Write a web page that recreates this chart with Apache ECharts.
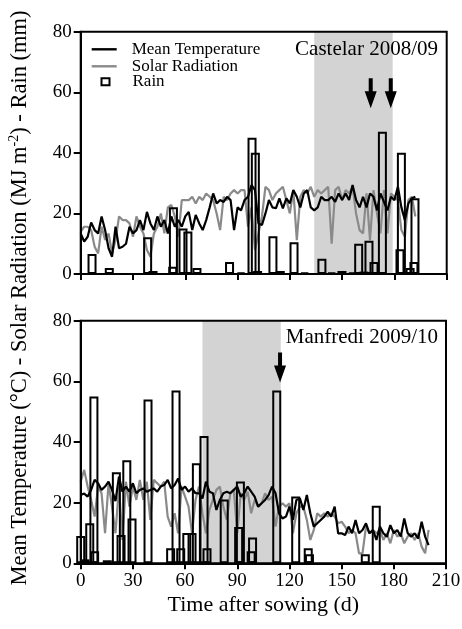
<!DOCTYPE html>
<html>
<head>
<meta charset="utf-8">
<script src="https://cdn.jsdelivr.net/npm/echarts@6/dist/echarts.min.js"></script>
<style>html,body{margin:0;padding:0;background:#fff}#c{width:462px;height:629px}</style>
</head>
<body>
<div id="c"></div>
<script>
// ---- data ----
const sampleDays = [0,2,4,6,8,10,12,14,16,18,20,22,24,26,28,30,32,34,36,38,40,42,44,46,48,50,52,54,56,58,60,62,64,66,68,70,72,74,76,78,80,82,84,86,88,90,92,94,96,98,100,102,104,106,108,110,112,114,116,118,120,122,124,126,128,130,132,134,136,138,140,142,144,146,148,150,152,154,156,158,160,162,164,166,168,170,172,174,176,178,180,182,184,186,188,190,192,194,196,198,200];
const xTicks = [0,30,60,90,120,150,180,210];
const yTicks = [0,20,40,60,80];

// Castelar 2008/09
const tempTop = [13.4,10.7,12.3,17,14.5,13.4,19,14.5,8.5,5.7,
 15.6,8.5,9,10,15.6,13.4,14.5,17.8,14.5,20.5,16.7,14.5,19,15.6,17.8,13.4,19,15.6,17.8,15.6,
 19,20.5,14.5,19.5,16.7,14.5,17.8,22,26.6,23.3,24.4,23.8,25.5,24.4,14.5,22,21,24.4,25.5,29.4,
 27.7,16.7,
 16.2,20,24.4,22,21.7,25,21.7,25,23.3,27.7,25.5,22,26.6,27.7,22,21,22,25.5,24.4,
 24.4,25.5,23.8,26.6,24.4,26.6,24.4,29.4,24.4,22,25.5,22,26.6,25.5,21,26.6,23.8,21,25.5,
 24.4,28.8,22,17.8,23.3,25,25.5];
const solarTop = [14,15.6,15.6,14.5,9,6.8,15.6,11.2,13.4,6.8,
 11.2,19,17.8,17.8,16.7,12.3,19,15.6,13.4,7.9,5.7,13.4,15.6,20,13.4,22,22.8,19,12.3,24.4,
 24.4,24.4,25.5,23.3,25.5,24.4,26.6,25.5,24.4,20,14.5,25.5,24.4,26.6,27.7,26.6,27.7,27.7,15.6,22,
 7.9,13.4,
 19,28.8,27.7,24.4,26.6,27.7,28.8,24.4,20,27.7,11.2,25.5,27.7,26.6,28.8,25.5,27.7,26.6,27.7,
 28.8,10,27.7,28.8,24.4,27.7,26.6,28.8,20,14.5,13.4,26.6,11.2,27.7,20,13.4,27.7,13.4,26.6,
 25.5,24.4,14.5,12.3,24.4,25.5,19];
const rainTopDays = [6.5,16.4,38.4,41.5,52.8,53.2,58.7,61.5,66.7,85.4,92,98.3,100.2,101.5,110.3,114.5,122.4,128.5,138.4,144,149.9,156,159.5,162.5,165.4,168.3,173.1,183.2,184,189,191.8,191.2];
const rainTopVals = [6.6,2,12.1,1,2.4,22,15,14,2,4,0.5,45,40,1,12.5,1,10.5,0.5,5,0.5,1,0.5,10,0.8,11,4,47,8.2,40,2,25,4];
const shadeTop = [134, 179];
const arrowTopDays = [166.4, 177.9];
const arrowTopY = [59.7, 59.7];

// Manfredi 2009/10
const tempBottom = [22.5,23,22,24.2,27.5,26.4,24.2,25.3,26.9,24.2,
 20.5,28.6,23.6,25.3,23.6,26.4,23.1,24.2,24.7,23.6,
 24.2,24.7,23.6,25.3,25.8,27.5,24.7,25.8,28,24.2,
 25.3,23.6,24.7,23.1,23.1,21.4,26.9,23.6,23.1,17.6,
 20.9,23.1,23.6,23.1,24.2,25.3,22,23.1,25.3,23.6,
 22,18.7,19.8,20.9,22.5,25.3,23.1,16.5,14.8,15.4,
 18.7,14.3,20.9,21.4,17.6,22.5,16.5,12.1,13.2,14.3,
 15.4,17,15.4,18.7,9.9,9.9,9.3,12.1,9.9,14.3,
 9.9,11,13.2,9.9,11,7.7,12.1,9.9,8.8,12.6,
 9.9,11,8.8,14.8,9.9,8.8,9.9,8.2,13.7,8.8,
 6];
const solarBottom = [26.9,30.8,25.3,20.9,15.4,25.3,23.1,9.9,26.4,18.7,
 9.9,25.3,7.7,26.9,18.7,25.3,20.9,27.5,20.9,26.9,
 14.3,27.5,26.4,25.3,26.9,15.4,12.1,16.5,9.9,25.3,
 22,18.7,9.9,20.9,25.3,16.5,9.9,17.6,20.9,24.2,
 25.3,18.7,14.3,23.1,24.2,9.9,23.1,20.9,23.6,16.5,
 20.9,18.7,19.8,23.1,20.9,22,12.1,18.7,19.8,18.7,
 19.8,9.9,16.5,18.7,18.7,14.3,7.7,11,16.5,15.4,
 16.5,15.4,16.5,15.4,13.2,13.7,12.1,9.9,11,9.9,
 3.3,3.3,12.1,9.9,11,9.9,11,7.7,9.9,6.6,
 11,8.8,9.9,6.6,8.8,9.9,7.7,9.9,5.5,3.3,
 11];
const rainBottomDays = [0,2.5,5.2,7.6,8,15.3,20.5,23.2,26.5,29.5,38.7,51.7,54.8,57.5,61,64,66.5,70.9,72.6,82.5,90.8,91.8,98.8,98,112.7,123.6,130.8,131.5,163.6,169.9];
const rainBottomVals = [9,1.3,13.2,55,4,1,30,9.3,34,14.8,54,5,57,5,10,10,33,42,5,21,12,27,8.5,4,57,22,5,3,3,19];
const shadeBottom = [70, 115];
const arrowBottomDays = [114.6];
const arrowBottomY = [64.6];

const panelTitles = ['Castelar 2008/09', 'Manfredi 2009/10'];

// ---- chart ----
const F = 'Liberation Serif, Times New Roman, serif';
const BLACK = '#000';
const GREY = '#8a8a8a';
const ARROW = 'path://M4,0L8,0L8,13L12,13L6,30L0,13L4,13Z';

const pair = (xs, ys) => ys.map((v, i) => [xs[i], v]);

function xAxisCfg(idx, labels) {
  const a = {
    gridIndex: idx, type: 'value', min: xTicks[0], max: xTicks[xTicks.length - 1],
    interval: xTicks[1] - xTicks[0], z: 10,
    axisLine: { show: true, onZero: false, lineStyle: { color: BLACK, width: 2 } },
    axisTick: { show: true, length: 6, lineStyle: { color: BLACK, width: 2 } },
    axisLabel: { show: labels, fontSize: 19, color: BLACK, fontFamily: F, margin: 8 },
    splitLine: { show: false }
  };
  if (labels) {
    a.name = 'Time after sowing (d)';
    a.nameLocation = 'middle';
    a.nameGap = 31;
    a.nameTextStyle = { fontSize: 22, fontFamily: F, color: BLACK };
  }
  return a;
}
function yAxisCfg(idx) {
  return {
    gridIndex: idx, type: 'value', min: yTicks[0], max: yTicks[yTicks.length - 1],
    interval: yTicks[1] - yTicks[0], z: 10,
    axisLine: { show: true, onZero: false, lineStyle: { color: BLACK, width: 2 } },
    axisTick: { show: true, length: 7, lineStyle: { color: BLACK, width: 2 } },
    axisLabel: { fontSize: 19, color: BLACK, fontFamily: F, margin: 9 },
    splitLine: { show: false }
  };
}
function panelSeries(idx, temp, solar, rainD, rainV, shade, arrD, arrY) {
  return [
    { type: 'line', xAxisIndex: idx, yAxisIndex: idx, data: [], silent: true, z: 0,
      markArea: { silent: true, itemStyle: { color: '#d3d3d3' },
        data: [[{ xAxis: shade[0] }, { xAxis: shade[1] }]] } },
    { name: 'Solar Radiation', type: 'line', xAxisIndex: idx, yAxisIndex: idx,
      data: pair(sampleDays, solar), symbol: 'none', z: 2,
      lineStyle: { color: GREY, width: 2.2 }, itemStyle: { color: GREY } },
    { name: 'Rain', type: 'bar', xAxisIndex: idx, yAxisIndex: idx,
      data: pair(rainD, rainV), barWidth: 9, clip: false, z: 3,
      itemStyle: { color: 'rgba(0,0,0,0)', borderColor: BLACK, borderWidth: 2 } },
    { name: 'Mean Temperature', type: 'line', xAxisIndex: idx, yAxisIndex: idx,
      data: pair(sampleDays, temp), symbol: 'none', z: 4,
      lineStyle: { color: BLACK, width: 2.2 }, itemStyle: { color: BLACK },
      markPoint: { symbol: ARROW, symbolSize: [12, 30], silent: true,
        itemStyle: { color: BLACK }, label: { show: false },
        data: arrD.map((d, i) => ({ coord: [d, arrY[i]] })) } }
  ];
}

const chart = echarts.init(document.getElementById('c'), null, { renderer: 'canvas' });
chart.setOption({
  animation: false,
  backgroundColor: '#fff',
  grid: [
    { left: 80.7, top: 31.7, width: 366, height: 242.3, show: true, borderColor: BLACK, borderWidth: 2, z: 10, outerBoundsMode: 'none' },
    { left: 80.7, top: 320.7, width: 365.3, height: 242.6, show: true, borderColor: BLACK, borderWidth: 2, z: 10, outerBoundsMode: 'none' }
  ],
  xAxis: [xAxisCfg(0, false), xAxisCfg(1, true)],
  yAxis: [yAxisCfg(0), yAxisCfg(1)],
  title: [
    { text: panelTitles[0], right: 24, top: 39, padding: 0,
      textStyle: { fontSize: 21, fontWeight: 'normal', fontFamily: F, color: BLACK } },
    { text: panelTitles[1], right: 24, top: 327, padding: 0,
      textStyle: { fontSize: 21, fontWeight: 'normal', fontFamily: F, color: BLACK } }
  ],
  legend: [
    { data: ['Mean Temperature', 'Solar Radiation'], orient: 'vertical', left: 91.7, top: 40.8,
      padding: 0, itemGap: 0, itemWidth: 25, itemHeight: 2.4, icon: 'rect', selectedMode: false,
      textStyle: { fontSize: 17, fontFamily: F, color: BLACK, lineHeight: 17, padding: [0, 0, 0, 10] } },
    { data: ['Rain'], orient: 'vertical', left: 100.5, top: 73.2, padding: 0,
      itemWidth: 8, itemHeight: 7, icon: 'rect', selectedMode: false,
      itemStyle: { color: 'rgba(0,0,0,0)', borderColor: BLACK, borderWidth: 2 },
      textStyle: { fontSize: 17, fontFamily: F, color: BLACK, lineHeight: 17, padding: [0, 0, 0, 18] } }
  ],
  graphic: [{
    type: 'text', x: 20.5, y: 298, rotation: Math.PI / 2,
    style: {
      text: '{a|Mean Temperature (°C) - Solar Radiation (MJ m}{s|-2}{a|) - Rain (mm)}',
      align: 'center', verticalAlign: 'middle',
      rich: {
        a: { fontSize: 22.5, fontFamily: F, fill: BLACK, lineHeight: 26 },
        s: { fontSize: 14, fontFamily: F, fill: BLACK, lineHeight: 15, verticalAlign: 'top' }
      }
    }
  }],
  series: [
    ...panelSeries(0, tempTop, solarTop, rainTopDays, rainTopVals, shadeTop, arrowTopDays, arrowTopY),
    ...panelSeries(1, tempBottom, solarBottom, rainBottomDays, rainBottomVals, shadeBottom, arrowBottomDays, arrowBottomY)
  ]
});
</script>
</body>
</html>
